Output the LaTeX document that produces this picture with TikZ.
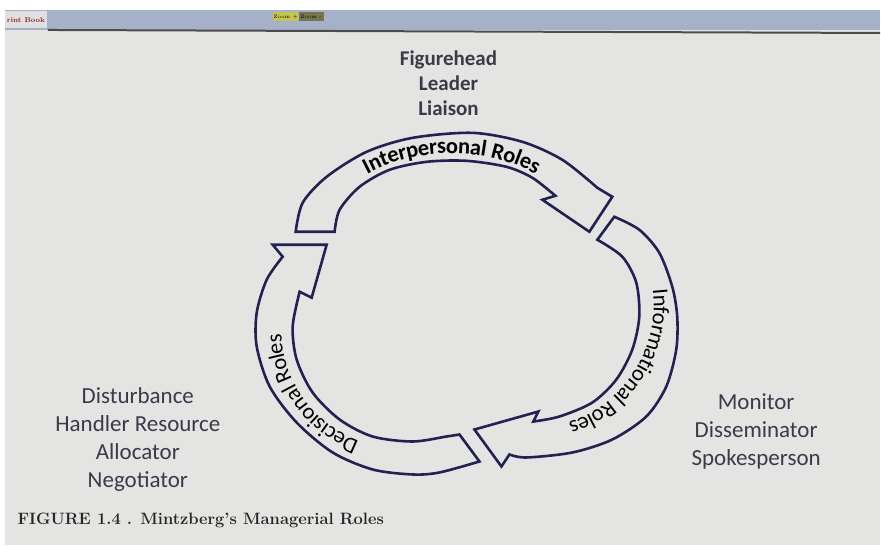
\documentclass[tikz,border=0pt]{standalone}
\usepackage{fontspec}
\newfontfamily\calibri{Carlito}
\usetikzlibrary{decorations.text, positioning}
\definecolor{screengray}{RGB}{228,228,226}
\definecolor{ringblue}{RGB}{34,34,82}
\definecolor{listgray}{RGB}{58,58,74}
\definecolor{barblue}{RGB}{166,176,200}
\definecolor{tabred}{RGB}{140,32,32}
\definecolor{zoomyellow}{RGB}{196,196,78}
\definecolor{zoomolive}{RGB}{118,118,72}
\newcommand{\ringfont}{\calibri\fontsize{22.5}{22.5}\selectfont}

\begin{document}
\begin{tikzpicture}[x=1pt, y=-1pt,
  ring/.style={draw=ringblue, line width=2.6pt, line join=miter},
  ringtext/.style 2 args={decorate, decoration={text along path, text align=center, raise=-6.5pt,
    text format delimiters={[}{]}, text={[\ringfont#1]#2}}},
  rolelist/.style={align=center, text=listgray, font=\calibri\fontsize{23}{28}\selectfont},
  zoombtn/.style={inner sep=0pt, minimum width=25, minimum height=9, font=\fontsize{5}{5}\selectfont}]
% screen
\fill[white] (0,0) rectangle (881,546);
\fill[screengray] (5,30) rectangle (881,546);
\fill[barblue] (5,10) rectangle (881,30);
\node[fill=black!12, text=tabred, minimum width=42, minimum height=17, inner sep=0pt,
  font=\bfseries\fontsize{7}{7}\selectfont] (tab) at (26,20) {rint Book};
\draw[line width=2pt, black!70] (48,30) -- (881,33);
\node[zoombtn, fill=zoomyellow] (zin) at (286,17) {Zoom +};
\node[zoombtn, fill=zoomolive, right=0pt of zin] (zout) {Zoom -};

% interpersonal
\draw[ring] plot[smooth] coordinates {(296,232) (303,203) (327,177) (367,152) (413,138) (473,133) (523,142) (563,160) (598,188)}
  -- (613,197) -- (590,232) -- (543,200) -- (556,196)
  -- plot[smooth] coordinates {(556,196) (533,178) (507,167) (467,161) (427,162) (390,170) (360,187) (340,210) (335,232)} -- cycle;
% informational
\draw[ring] plot[smooth] coordinates {(615,217) (640,230) (660,253) (673,287) (678,317) (677,350) (667,387) (647,417) (613,440) (573,453) (527,458) (510,455)}
  -- (502,467) -- (475,430) -- (539,412) -- (534,422)
  -- plot[smooth] coordinates {(534,422) (560,417) (593,403) (617,380) (633,350) (640,317) (637,283) (623,257) (598,240)} -- cycle;
% decisional
\draw[ring] plot[smooth] coordinates {(480,462) (440,473) (413,475) (373,470) (333,453) (297,423) (270,387) (257,347) (257,313) (267,280) (283,257)}
  -- (273,245) -- (327,245) -- (312,298) -- (300,292)
  -- plot[smooth] coordinates {(300,292) (293,327) (297,360) (313,393) (340,420) (373,437) (413,442) (447,437) (460,435)} -- cycle;

% labels on the ring
\path[ringtext={\bfseries}{Interpersonal Roles}] plot[domain=-165:-15, samples=61] ({452+150*cos(\x)}, {262+115*sin(\x)});
\path[ringtext={}{Informational Roles}] plot[domain=-40:105, samples=61] ({530+131*cos(\x)}, {305+131*sin(\x)});
\path[ringtext={}{Decisional Roles}] plot[domain=72:216, samples=61] ({400+125*cos(\x)}, {330+125*sin(\x)});

% role lists
\node[rolelist, font=\calibri\bfseries\fontsize{21}{25}\selectfont] (interp) at (449,83) {Figurehead\\Leader\\Liaison};
\node[rolelist] (inform) at (757,432) {Monitor\\Disseminator\\Spokesperson};
\node[rolelist] (decis) at (138,440) {Disturbance\\Handler Resource\\Allocator\\Negotiator};
\node[anchor=west, text=black!85, font=\bfseries\fontsize{16.5}{16.5}\selectfont] (caption) at (14,521) {FIGURE 1.4 . Mintzberg’s Managerial Roles};
\end{tikzpicture}
\end{document}
